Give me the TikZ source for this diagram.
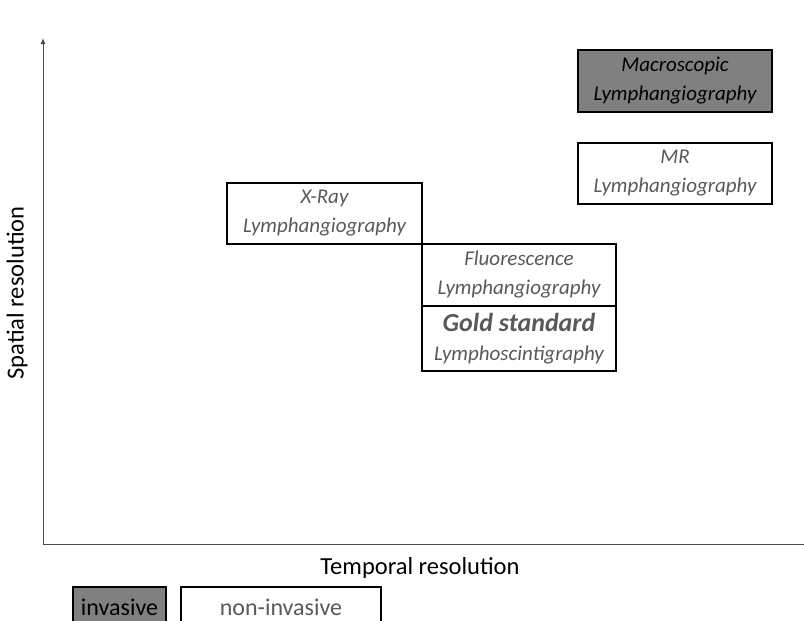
\documentclass[tikz,border=0pt]{standalone}
\usepackage{fontspec}
\setmainfont{Carlito}
\usetikzlibrary{arrows.meta,positioning}
\definecolor{boxgray}{HTML}{808080}
\definecolor{txtgray}{HTML}{595959}

\begin{document}
\begin{tikzpicture}[x=1pt, y=-1pt,
  box/.style={draw=black, line width=1.2pt, minimum width=194pt, minimum height=62pt, inner sep=0pt, align=center, font=\fontsize{21}{29}\selectfont\itshape, text=txtgray},
  invbox/.style={box, fill=boxgray, text=black},
  legbox/.style={draw=black, line width=1.2pt, minimum height=46pt, inner sep=0pt},
  legtext/.style={anchor=base, inner sep=0pt, font=\fontsize{24}{26}\selectfont},
  axislabel/.style={font=\fontsize{24.5}{28}\selectfont, text=black},
]
  \useasboundingbox (0,0) rectangle (804,621);

  % Axes
  \coordinate (origin) at (43,544);
  \coordinate (ytop) at (43,38);
  \coordinate (xend) at (805,544);
  \draw[line width=1pt, black!70, -{Latex[length=6pt,width=5pt]}] (origin) -- (ytop);
  \draw[line width=1pt, black!70] (origin) -- (xend);
  \node[axislabel] (xlab) at (420,568) {Temporal resolution};
  \node[axislabel, rotate=90] (ylab) at (17,293) {Spatial resolution};

  % Modalities
  \node[invbox] (macro) at (675,81) {Macroscopic\\Lymphangiography};
  \node[box, minimum height=61pt] (mr) at (675,173.5) {MR\\Lymphangiography};
  \node[box, minimum width=195pt, minimum height=61pt] (xray) at (324.5,213.5) {X-Ray\\Lymphangiography};
  \node[box] (fluor) at (519,275) {Fluorescence\\Lymphangiography};
  \node[box, minimum height=65pt] (gold) at (519,338.5) {{\bfseries\fontsize{26}{29}\selectfont Gold standard}\\Lymphoscintigraphy};

  % Legend (cut by the lower edge)
  \node[legbox, fill=boxgray, minimum width=93pt] (inv) at (119.5,610) {};
  \node[legbox, minimum width=200pt] (noninv) at (281,610) {};
  \node[legtext, text=black] (invtxt) at (119.5,615) {invasive};
  \node[legtext, text=txtgray] (noninvtxt) at (281,615) {non-invasive};
\end{tikzpicture}
\end{document}
